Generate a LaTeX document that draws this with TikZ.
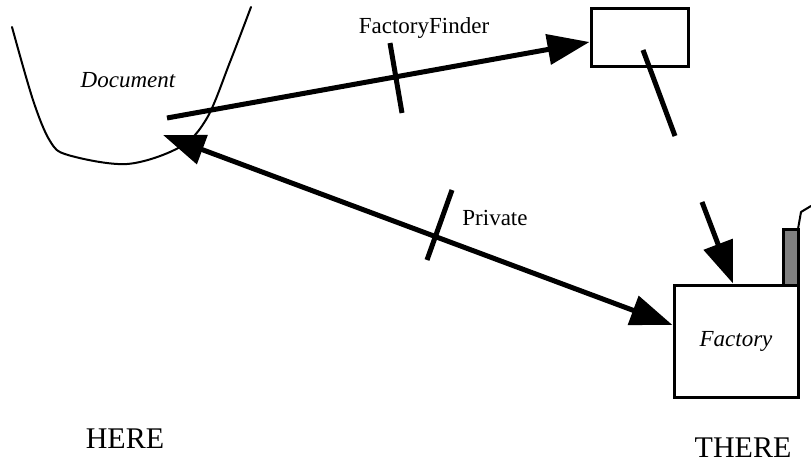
\documentclass[tikz,border=0pt]{standalone}
\usepackage{fontspec}
\setmainfont{Liberation Serif}
\usetikzlibrary{arrows.meta}

\tikzset{
  boxstyle/.style={draw, line width=3pt, inner sep=0pt},
  heavy/.style={line width=5pt},
  bigtip/.style={-{Triangle[length=42pt,width=30pt]}},
  bothtips/.style={{Triangle[length=42pt,width=30pt]}-{Triangle[length=42pt,width=30pt]}},
  lbl/.style={font=\fontsize{23}{27}\selectfont, inner sep=0pt},
  placelbl/.style={font=\fontsize{30}{34}\selectfont, inner sep=0pt},
  outline/.style={line width=2pt, line join=round, line cap=round},
}

\begin{document}
\begin{tikzpicture}[x=1pt, y=-1pt]
  \useasboundingbox (0,0) rectangle (811,464);

  % the document blob
  \draw[outline] plot[smooth, tension=0.55] coordinates
    {(12,27) (33,100) (50,141) (68,155) (127,164) (180,147) (207,118) (230,62) (251,7)};
  \node[lbl, font=\fontsize{23}{27}\selectfont\itshape] (doclabel) at (128,80) {Document};

  % finder box and factory
  \node[boxstyle, minimum width=97pt, minimum height=58pt] (finder) at (639.5,37) {};
  \node[boxstyle, minimum width=124pt, minimum height=112pt,
        font=\fontsize{23}{27}\selectfont\itshape] (factory) at (736,341) {Factory};

  % chimney with smoke
  \draw[line width=3pt, fill=black!50] (783,229) rectangle (798,285);
  \draw[outline] (798,229) -- (801,212) -- (811,206);

  % free ends of connectors
  \coordinate (ffstart) at (167,118);
  \coordinate (doctip) at (163,135);
  \coordinate (linkend) at (675,136);
  \coordinate (downstart) at (702,202);

  % FactoryFinder connector
  \draw[heavy, bigtip] (ffstart) -- ([yshift=-5pt]finder.west);
  \draw[heavy] (390,43) -- (402,113);
  \node[lbl] (fflabel) at (424,28) {FactoryFinder};

  % link from the finder towards the factory
  \draw[heavy] ([xshift=3.5pt,yshift=-13pt]finder.center) -- (linkend);
  \draw[heavy, bigtip] (downstart) -- ([xshift=-3pt]factory.north);

  % Private connector
  \draw[heavy, bothtips] (doctip) -- ([yshift=16pt]factory.west);
  \draw[heavy] (452,190) -- (427,260);
  \node[lbl] (privlabel) at (495,218) {Private};

  % place labels
  \node[placelbl] (here) at (125,439) {HERE};
  \node[placelbl] (there) at (743,448) {THERE};
\end{tikzpicture}
\end{document}
